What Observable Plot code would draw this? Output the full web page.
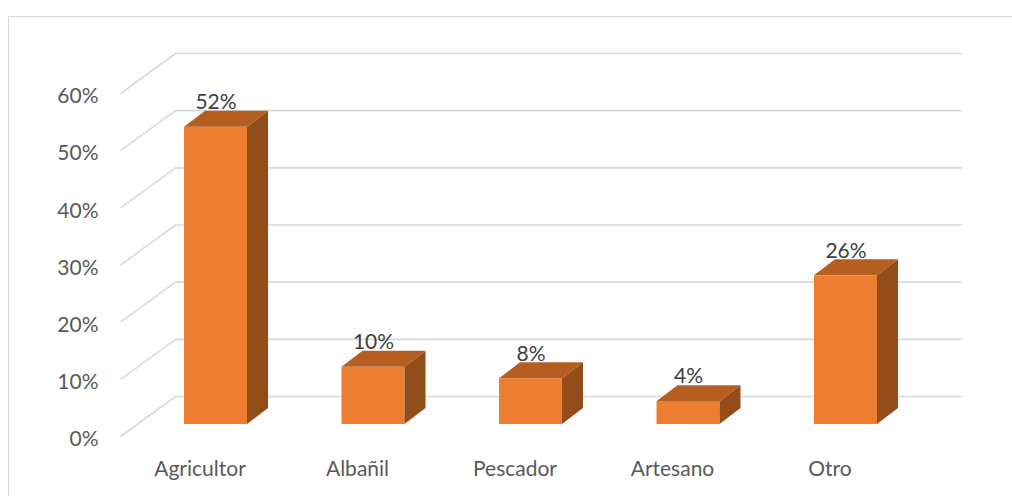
<!DOCTYPE html>
<html>
<head>
<meta charset="utf-8">
<script src="https://cdn.jsdelivr.net/npm/d3@7"></script>
<script src="https://cdn.jsdelivr.net/npm/@observablehq/plot@0.6"></script>
<style>
  html, body { margin: 0; padding: 0; background: #fff; overflow: hidden; }
  #wrap { position: relative; width: 1012px; height: 496px; }
  #border { position: absolute; left: 8px; top: 16px; width: 1200px; height: 800px;
            border-left: 1.5px solid #d9d9d9; border-top: 1.5px solid #d9d9d9; pointer-events: none; }
</style>
</head>
<body>
<div id="wrap"><div id="border"></div></div>
<script>
// ---- data ----
const categories = ["Agricultor", "Albañil", "Pescador", "Artesano", "Otro"];
const values = [0.52, 0.10, 0.08, 0.04, 0.26];
const yTicks = [0, 0.1, 0.2, 0.3, 0.4, 0.5, 0.6];

// ---- layout / style constants ----
const PX_X = 157.5;            // px per category unit
const PX_Y = 343 / 0.6;        // px per y unit
const halfW = 0.2;             // half bar width (category units)
const depthX = 21 / PX_X;      // bar depth in x units
const depthY = 16 / PX_Y;      // bar depth in y units
const barShift = -12;          // bars sit slightly behind the front floor edge (px)
const wallFrontLeft = -0.606;  // left front edge of the floor
const wallDX = 55 / PX_X;      // wall depth offset in x units
const wallDY = 40 / PX_Y;      // wall depth offset in y units
const wallRight = 4.74;        // back wall right end
const FS = 21;

const front = "#ED7D31", topC = "#B65E20", sideC = "#934D1B", grid = "#d9d9d9";

const bars = categories.map((c, i) => ({cat: c, i, v: values[i]}));
const sides = bars.flatMap(d => [
  {cat: d.cat, x1: d.i + halfW, y1: 0, x2: d.i + halfW + depthX, y2: depthY},
  {cat: d.cat, x1: d.i + halfW, y1: d.v, x2: d.i + halfW + depthX, y2: d.v + depthY}
]);
const tops = bars.flatMap(d => [
  {cat: d.cat, x1: d.i - halfW, y1: d.v, x2: d.i - halfW + depthX, y2: d.v + depthY},
  {cat: d.cat, x1: d.i + halfW, y1: d.v, x2: d.i + halfW + depthX, y2: d.v + depthY}
]);

const chart = Plot.plot({
  width: 1012,
  height: 496,
  marginLeft: 120,
  marginBottom: 60,
  marginTop: 0,
  marginRight: 0,
  style: {fontFamily: "Lato, 'Open Sans', sans-serif", fontSize: FS + "px", color: "#595959", background: "transparent"},
  x: {type: "linear", domain: [0, 4], range: [215.5, 845.5]},
  y: {domain: [0, 0.6], range: [436, 93]},
  marks: [
    Plot.ruleY(yTicks, {y: d => d + wallDY, x1: wallFrontLeft + wallDX, x2: wallRight, stroke: grid, strokeWidth: 1.6}),
    Plot.link(yTicks, {x1: wallFrontLeft, y1: d => d, x2: wallFrontLeft + wallDX, y2: d => d + wallDY, stroke: grid, strokeWidth: 1.6}),
    Plot.rect(bars, {x1: d => d.i - halfW, x2: d => d.i + halfW, y1: 0, y2: "v", fill: front, dy: barShift}),
    Plot.area(sides, {x1: "x1", y1: "y1", x2: "x2", y2: "y2", z: "cat", fill: sideC, dy: barShift}),
    Plot.area(tops, {x1: "x1", y1: "y1", x2: "x2", y2: "y2", z: "cat", fill: topC, dy: barShift}),
    Plot.text(bars, {x: "i", y: "v", text: d => d3.format(".0%")(d.v), dy: -37, lineAnchor: "middle",
                     fill: "#404040", fontSize: FS}),
    Plot.axisY(yTicks, {tickSize: 0, tickPadding: 22, tickFormat: ".0%", dy: 3, fontSize: FS, fill: "#595959"}),
    Plot.axisX([0, 1, 2, 3, 4], {tickSize: 0, tickPadding: 25, tickFormat: i => categories[i], dx: -16, fontSize: FS, fill: "#595959"})
  ]
});
chart.style.position = "absolute";
chart.style.left = "0";
chart.style.top = "0";
document.getElementById("wrap").appendChild(chart);
</script>
</body>
</html>
